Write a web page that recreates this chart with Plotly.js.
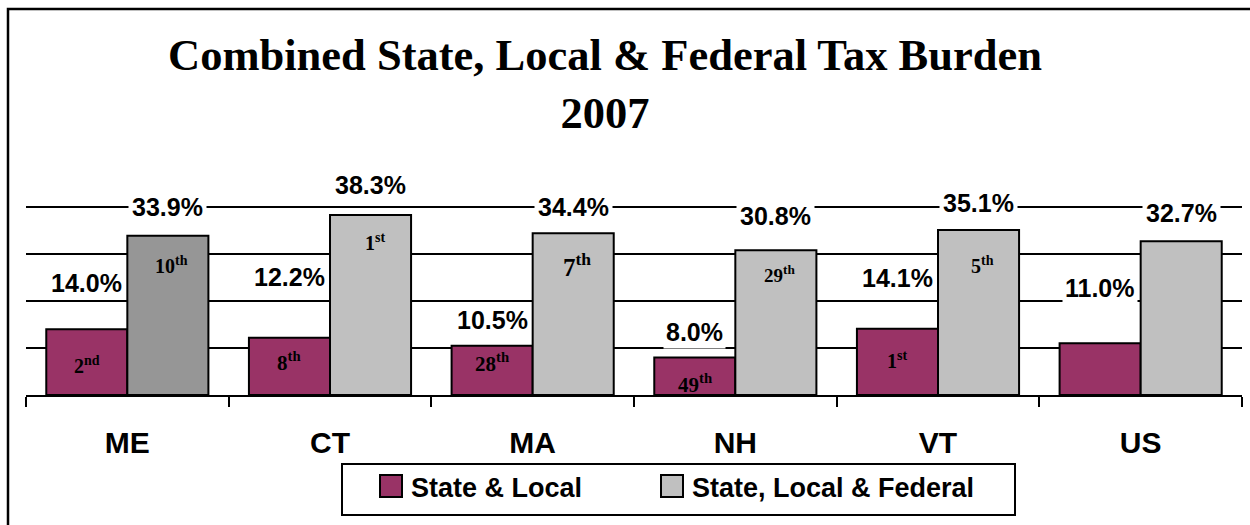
<!DOCTYPE html>
<html>
<head>
<meta charset="utf-8">
<script src="https://cdn.plot.ly/plotly-3.0.1.min.js"></script>
<style>
  html, body { margin: 0; padding: 0; background: #ffffff; }
  #chart { width: 1250px; height: 525px; }
</style>
</head>
<body>
<div id="chart"></div>
<script>
// ---- data ----
const categories = ['ME', 'CT', 'MA', 'NH', 'VT', 'US'];
const stateLocal = [14.0, 12.2, 10.5, 8.0, 14.1, 11.0];
const stateLocalFederal = [33.9, 38.3, 34.4, 30.8, 35.1, 32.7];
const stateLocalRank = ['2nd', '8th', '28th', '49th', '1st', ''];
const stateLocalFederalRank = ['10th', '1st', '7th', '29th', '5th', ''];
const seriesNames = ['State & Local', 'State, Local & Federal'];
const chartTitle = 'Combined State, Local & Federal Tax Burden<br>2007';

// ---- styling / layout helpers ----
const W = 1250, H = 525;
const M = { l: 26, r: 8, t: 160, b: 130 };
const pw = W - M.l - M.r, ph = H - M.t - M.b;
const px2x = p => (p - M.l) / pw;
const px2y = p => (H - M.b - p) / ph;

const maroon = '#993366';
const lightGray = '#C0C0C0';
const darkGray = '#969696';
const sans = 'Liberation Sans, Arial, sans-serif';
const serif = 'Liberation Serif, Times New Roman, serif';

const bargap = 0.2;
const halfBar = (pw / categories.length) * (1 - bargap) / 4; // center offset of each bar in group

// vertical offsets (px) of the value labels above bar tops (hand placed in original)
const slLift = [46, 61, 26, 25, 51, 55];
const slfLift = [29, 30, 26, 34, 27, 28];
// offsets (px) of the rank labels below bar tops
const slDrop = [22, 8, 1, 11, 17, 0];
const slfDrop = [15, 13, 14, 10, 21, 0];
const slfRankSize = [20, 20, 25, 19, 20, 20];
const slRankSize = [20, 21, 21, 21, 20, 20];

const totalColors = categories.map((c, i) => i === 0 ? darkGray : lightGray);

const traces = [
  {
    type: 'bar', name: seriesNames[0], x: categories, y: stateLocal,
    marker: { color: maroon, line: { color: '#000000', width: 2 } },
    hoverinfo: 'none', legend: 'legend'
  },
  {
    type: 'bar', name: seriesNames[1], x: categories, y: stateLocalFederal,
    marker: { color: totalColors, line: { color: '#000000', width: 2 } },
    hoverinfo: 'none', legend: 'legend2'
  }
];

const fmtRank = r => r.replace(/^(\d+)(\D+)$/, '$1<sup>$2</sup>');

const annotations = [];
categories.forEach((c, i) => {
  annotations.push({
    x: c, y: stateLocal[i], xref: 'x', yref: 'y', xshift: -halfBar, yshift: slLift[i],
    text: stateLocal[i].toFixed(1) + '%', showarrow: false, yanchor: 'middle',
    bgcolor: '#ffffff', borderpad: 2,
    font: { family: sans, size: 25, color: '#000000', weight: 'bold' }
  });
  annotations.push({
    x: c, y: stateLocalFederal[i], xref: 'x', yref: 'y', xshift: halfBar, yshift: slfLift[i],
    text: stateLocalFederal[i].toFixed(1) + '%', showarrow: false, yanchor: 'middle',
    bgcolor: '#ffffff', borderpad: 3,
    font: { family: sans, size: 25, color: '#000000', weight: 'bold' }
  });
  if (stateLocalRank[i]) {
    annotations.push({
      x: c, y: stateLocal[i], xref: 'x', yref: 'y', xshift: -halfBar, yshift: -slDrop[i],
      text: fmtRank(stateLocalRank[i]), showarrow: false, yanchor: 'top',
      font: { family: serif, size: slRankSize[i], color: '#000000', weight: 'bold' }
    });
  }
  if (stateLocalFederalRank[i]) {
    annotations.push({
      x: c, y: stateLocalFederal[i], xref: 'x', yref: 'y', xshift: halfBar + 4, yshift: -slfDrop[i],
      text: fmtRank(stateLocalFederalRank[i]), showarrow: false, yanchor: 'top',
      font: { family: serif, size: slfRankSize[i], color: '#000000', weight: 'bold' }
    });
  }
});

const shapes = [
  { // outer frame (extends past right/bottom edges)
    type: 'rect', xref: 'paper', yref: 'paper',
    x0: px2x(8), x1: px2x(1300), y0: px2y(9), y1: px2y(600),
    line: { color: '#000000', width: 2.5 }, fillcolor: 'rgba(0,0,0,0)', layer: 'above'
  },
  { // legend box
    type: 'rect', xref: 'paper', yref: 'paper',
    x0: px2x(342), x1: px2x(1015), y0: px2y(464), y1: px2y(515),
    line: { color: '#000000', width: 2 }, fillcolor: 'rgba(0,0,0,0)', layer: 'above'
  }
];

const legendFont = { family: sans, size: 27, color: '#000000', weight: 'bold' };
const legendBase = {
  orientation: 'h', xanchor: 'left', y: px2y(462), yanchor: 'top',
  font: legendFont, bgcolor: 'rgba(0,0,0,0)', borderwidth: 0,
  itemclick: false, itemdoubleclick: false
};

const layout = {
  width: W, height: H,
  margin: M,
  paper_bgcolor: '#ffffff', plot_bgcolor: '#ffffff',
  barmode: 'group', bargap: bargap, bargroupgap: 0,
  title: {
    text: chartTitle,
    font: { family: serif, size: 44.5, color: '#000000', weight: 'bold' },
    xref: 'container', yref: 'container',
    x: 605 / W, xanchor: 'center',
    y: 1 - 70 / H, yanchor: 'middle'
  },
  xaxis: {
    type: 'category',
    showline: true, linecolor: '#000000', linewidth: 2,
    ticks: 'outside', tickson: 'boundaries', ticklen: 10, tickwidth: 2, tickcolor: '#000000',
    ticklabelstandoff: 20,
    tickfont: { family: sans, size: 30, color: '#000000', weight: 'bold' },
    showgrid: false, zeroline: false, fixedrange: true
  },
  yaxis: {
    range: [0, 50], dtick: 10, tick0: 0,
    showgrid: true, gridcolor: '#000000', gridwidth: 2,
    showticklabels: false, ticks: '', showline: false, zeroline: false, fixedrange: true
  },
  showlegend: true,
  legend: Object.assign({}, legendBase, { x: px2x(371) }),
  legend2: Object.assign({}, legendBase, { x: px2x(652) }),
  annotations: annotations,
  shapes: shapes
};

function patchLegend(gd) {
  const paths = gd.querySelectorAll('g.legendpoints path');
  paths.forEach((p, i) => {
    p.setAttribute('d', 'M11,11H-11V-11H11Z');
    if (i > 0) p.style.fill = lightGray;
  });
}

const gdEl = document.getElementById('chart');
Plotly.newPlot(gdEl, traces, layout, { staticPlot: true, displayModeBar: false }).then(patchLegend);
patchLegend(gdEl);
</script>
</body>
</html>
